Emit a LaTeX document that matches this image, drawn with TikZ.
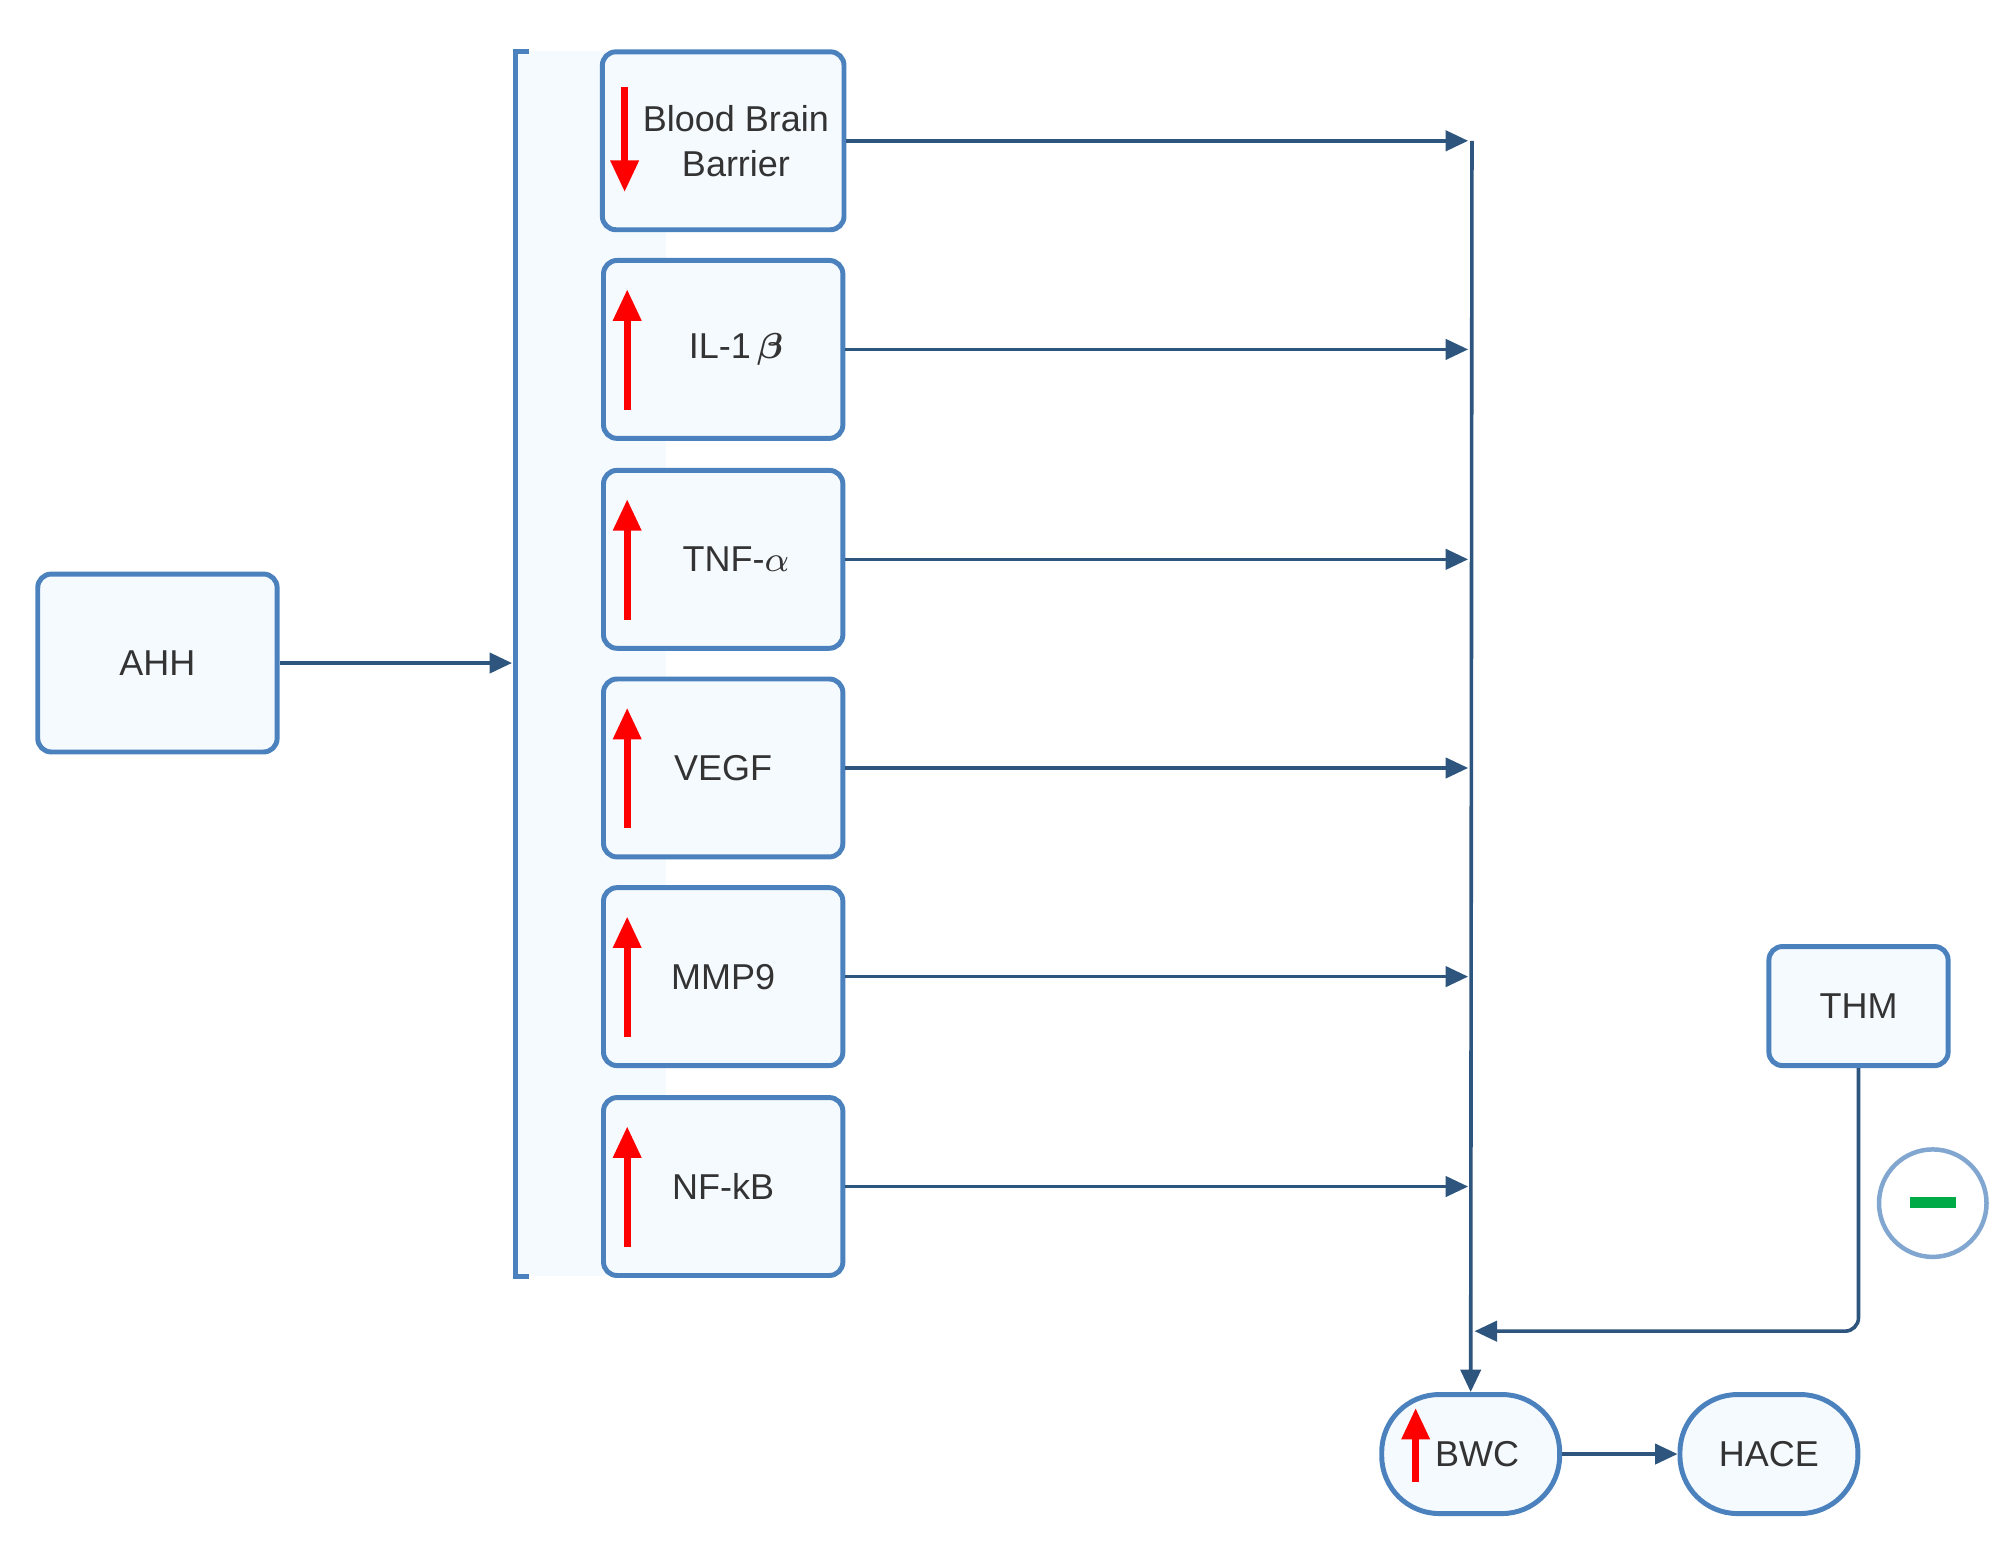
\documentclass[tikz,border=0pt]{standalone}
\usepackage{amsmath,amssymb,bm}
\usepackage{fontspec}
\setmainfont{Liberation Sans}
\usetikzlibrary{arrows.meta}
\definecolor{bd}{RGB}{75,130,190}
\definecolor{fl}{RGB}{245,250,255}
\definecolor{ln}{RGB}{45,85,125}
\definecolor{gr}{RGB}{0,170,70}
\begin{document}
\begin{tikzpicture}[x=0.1mm,y=-0.1mm,
 box/.style={draw=bd,fill=fl,line width=1.1pt,rounded corners=3pt,minimum width=18.7mm,minimum height=13.9mm,align=center,font=\fontsize{8}{10}\selectfont,text=black!80},
 pill/.style={draw=bd,fill=fl,line width=1.1pt,rounded corners=4.5mm,minimum width=13.9mm,minimum height=9.3mm,font=\fontsize{8}{10}\selectfont,text=black!80},
 con/.style={draw=ln,line width=0.8pt,-{Triangle[length=5pt,width=4.5pt]}},
 red/.style={draw=red,line width=1.5pt,-{Triangle[length=7pt,width=6pt]}}]
\useasboundingbox (0,0) rectangle (1568,1209);
\fill[fl] (403,40) rectangle (520,997);
\draw[bd,line width=1.1pt] (413,40) -- (403,40) -- (403,997) -- (413,997);
\node[box] (ahh) at (123,518) {AHH};
\coordinate (br) at (400,518);
\draw[con] (ahh) -- (br);
\node[box] (b1) at (565,110) {\hspace*{2mm}Blood Brain\\\hspace*{2mm}Barrier};
\node[box] (b2) at (565,273) {\hspace*{2mm}IL-1\,$\bm{\beta}$};
\node[box] (b3) at (565,437) {\hspace*{2mm}TNF-$\alpha$};
\node[box] (b4) at (565,600) {VEGF};
\node[box] (b5) at (565,763) {MMP9};
\node[box] (b6) at (565,927) {NF-kB};
\draw[red] (488,68) -- (488,150);
\foreach \y in {273,437,600,763,927}{\draw[red] (490,\y+47) -- (490,\y-47);}
\foreach \i/\y in {1/110,2/273,3/437,4/600,5/763,6/927}{
 \coordinate (e\i) at (1147,\y);
 \draw[con] (b\i) -- (e\i);}
\node[pill] (bwc) at (1149,1136) {\hspace*{1mm}BWC};
\node[pill] (hace) at (1382,1136) {HACE};
\draw[red] (1106,1158) -- (1106,1100);
\coordinate (top) at (1150,110);
\draw[con] (top) -- (bwc.north);
\node[box,minimum width=14mm,minimum height=9.3mm] (thm) at (1452,786) {THM};
\coordinate (j) at (1152,1040);
\draw[con,rounded corners=3pt] (thm.south) |- (j);
\draw[con] (bwc) -- (hace);
\node[draw=bd!70,line width=1pt,circle,minimum size=8.4mm] (neg) at (1510,940) {};
\fill[gr] (1492,935) rectangle (1528,944);
\end{tikzpicture}
\end{document}
